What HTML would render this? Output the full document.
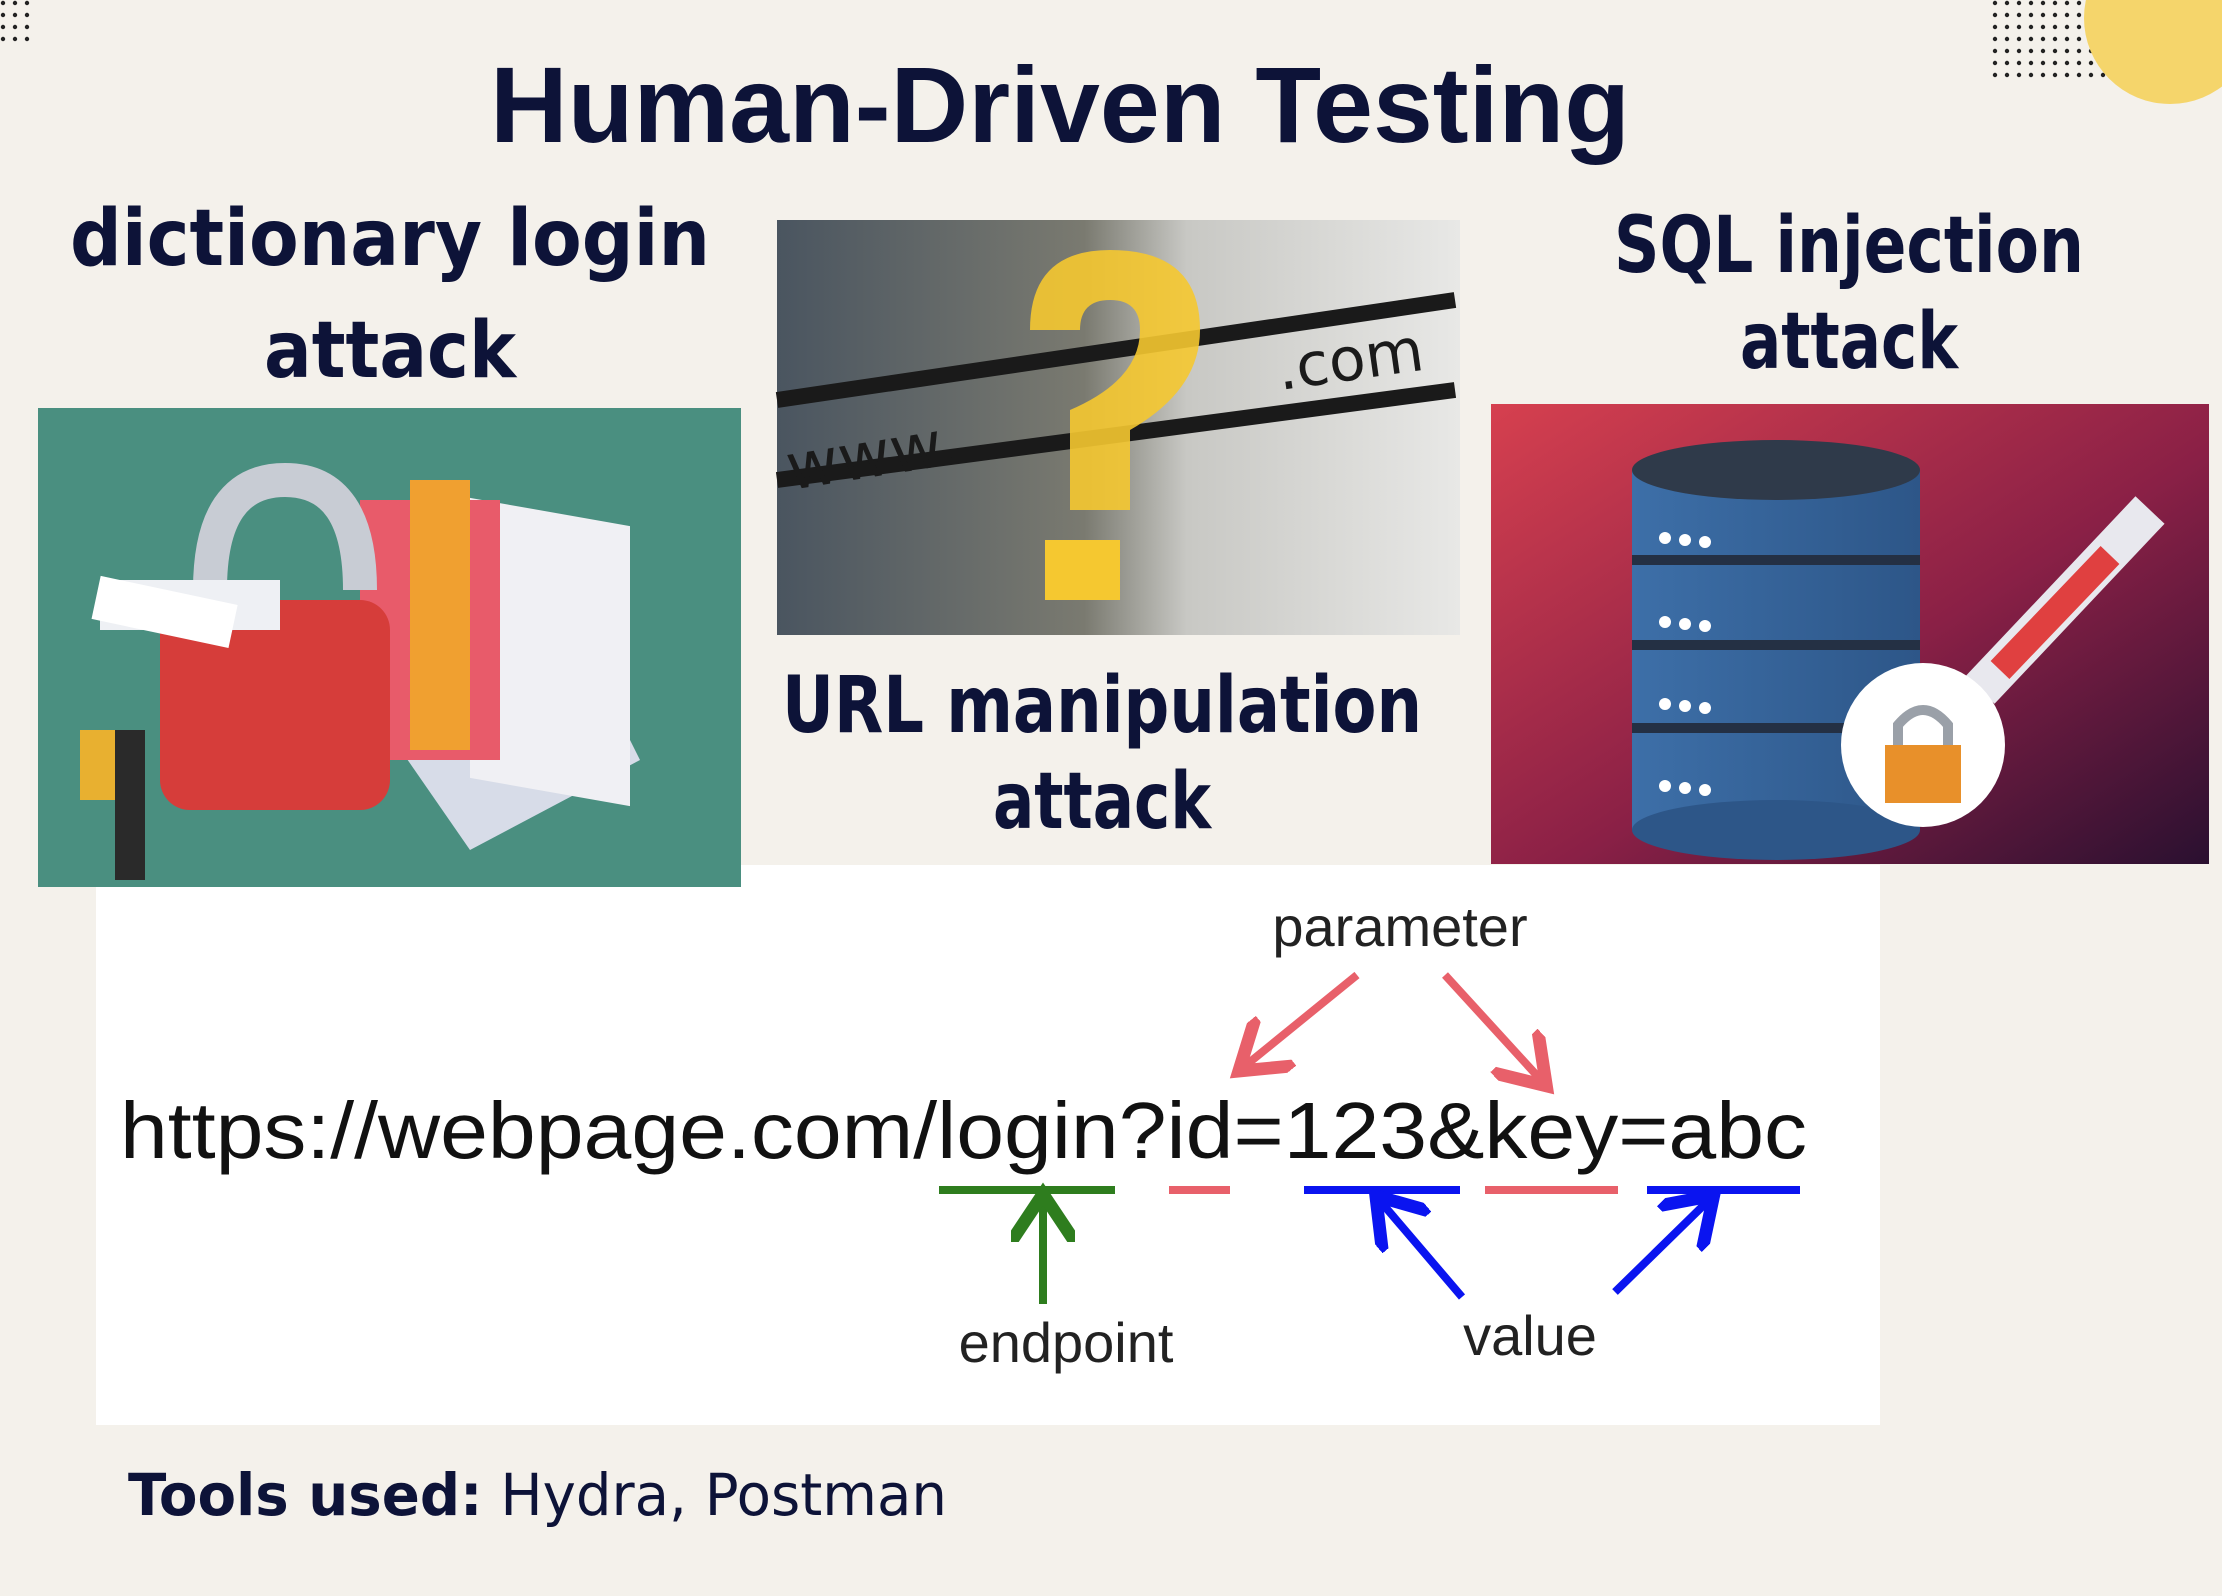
<!DOCTYPE html>
<html><head><meta charset="utf-8"><style>
html,body{margin:0;padding:0;background:#f4f1eb;}
svg{display:block}
</style></head><body>
<svg width="2222" height="1596" viewBox="0 0 2222 1596" xmlns="http://www.w3.org/2000/svg">
<defs>
<pattern id="dots" width="12" height="12" patternUnits="userSpaceOnUse"><circle cx="3" cy="3" r="2.2" fill="#222"/></pattern>
<linearGradient id="red" x1="0" y1="0" x2="1" y2="1"><stop offset="0" stop-color="#d6404f"/><stop offset="0.55" stop-color="#8a2046"/><stop offset="1" stop-color="#2a1030"/></linearGradient>
<linearGradient id="mid" x1="0" y1="0" x2="1" y2="0"><stop offset="0" stop-color="#4a5560"/><stop offset="0.45" stop-color="#7a7a70"/><stop offset="0.6" stop-color="#c8c8c4"/><stop offset="1" stop-color="#e8e8e6"/></linearGradient>
<linearGradient id="db" x1="0" y1="0" x2="1" y2="0"><stop offset="0" stop-color="#3d6fa8"/><stop offset="1" stop-color="#2d5688"/></linearGradient>
<marker id="ar" markerWidth="8" markerHeight="8" refX="5" refY="4" orient="auto" markerUnits="strokeWidth"><path d="M0,0 L6,4 L0,8" fill="none" stroke="#e8606a" stroke-width="1.6"/></marker>
<marker id="ab" markerWidth="8" markerHeight="8" refX="5" refY="4" orient="auto" markerUnits="strokeWidth"><path d="M0,0 L6,4 L0,8" fill="none" stroke="#0a14f0" stroke-width="1.6"/></marker>
<marker id="ag" markerWidth="8" markerHeight="8" refX="5" refY="4" orient="auto" markerUnits="strokeWidth"><path d="M0,0 L6,4 L0,8" fill="none" stroke="#2e7d1e" stroke-width="1.6"/></marker>
</defs>
<rect width="2222" height="1596" fill="#f4f1eb"/>
<rect x="0" y="0" width="36" height="44" fill="url(#dots)"/>
<rect x="1990" y="0" width="232" height="80" fill="url(#dots)"/>
<circle cx="2170" cy="18" r="86" fill="#f5d56b"/>
<text x="1060" y="142" text-anchor="middle" font-family="Liberation Sans, sans-serif" font-weight="bold" font-size="108" fill="#0d1338" textLength="1140" lengthAdjust="spacingAndGlyphs">Human-Driven Testing</text>
<g font-family="DejaVu Sans, sans-serif" font-size="78" fill="#0d1338" text-anchor="middle" font-weight="bold">
<text x="390" y="265" textLength="640" lengthAdjust="spacingAndGlyphs">dictionary login</text>
<text x="390" y="377" textLength="252" lengthAdjust="spacingAndGlyphs">attack</text>
<text x="1102" y="732" textLength="640" lengthAdjust="spacingAndGlyphs">URL manipulation</text>
<text x="1102" y="828" textLength="218" lengthAdjust="spacingAndGlyphs">attack</text>
<text x="1849" y="272" textLength="470" lengthAdjust="spacingAndGlyphs">SQL injection</text>
<text x="1849" y="368" textLength="218" lengthAdjust="spacingAndGlyphs">attack</text>
</g>
<rect x="96" y="865" width="1784" height="560" fill="#ffffff"/>
<rect x="38" y="408" width="703" height="479" fill="#4a8f80"/>
<polygon points="380,720 560,600 640,760 470,850" fill="#d7dce8"/>
<rect x="470" y="415" width="160" height="280" fill="#f0f0f4" transform="skewY(10)"/>
<rect x="360" y="500" width="140" height="260" fill="#e85b6a"/>
<rect x="410" y="480" width="60" height="270" fill="#f0a030"/>
<path d="M210,590 Q210,480 285,480 Q360,480 360,590" fill="none" stroke="#c8ccd4" stroke-width="34"/>
<rect x="160" y="600" width="230" height="210" rx="30" fill="#d63d3a"/>
<rect x="100" y="580" width="180" height="50" fill="#eef0f4"/>
<rect x="95" y="590" width="140" height="44" fill="#ffffff" transform="rotate(12 165 610)"/>
<rect x="80" y="730" width="40" height="70" fill="#e8b030"/>
<rect x="115" y="730" width="30" height="150" fill="#2a2a2a"/>
<rect x="777" y="220" width="683" height="415" fill="url(#mid)"/>
<path d="M777,400 L1455,300" stroke="#1a1a1a" stroke-width="16"/>
<path d="M777,480 L1455,390" stroke="#1a1a1a" stroke-width="16"/>
<text x="790" y="490" font-family="DejaVu Sans, sans-serif" font-size="64" fill="#1a1a1a" transform="rotate(-9 790 490)">www.</text>
<text x="1280" y="390" font-family="DejaVu Sans, sans-serif" font-size="60" fill="#1a1a1a" transform="rotate(-8 1280 390)">.com</text>
<path d="M1030,330 Q1030,250 1110,250 Q1200,250 1200,330 Q1200,390 1130,430 L1130,510 L1070,510 L1070,410 Q1140,380 1140,330 Q1140,300 1110,300 Q1080,300 1080,330 Z" fill="#f5c830" opacity="0.9"/>
<rect x="1045" y="540" width="75" height="60" fill="#f5c830"/>
<rect x="1491" y="404" width="718" height="460" fill="url(#red)"/>
<rect x="1632" y="470" width="288" height="360" fill="url(#db)"/>
<ellipse cx="1776" cy="470" rx="144" ry="30" fill="#2f3a4a"/>
<ellipse cx="1776" cy="830" rx="144" ry="30" fill="#2d5688"/>
<g stroke="#243044" stroke-width="10"><line x1="1632" y1="560" x2="1920" y2="560"/><line x1="1632" y1="645" x2="1920" y2="645"/><line x1="1632" y1="728" x2="1920" y2="728"/></g>
<g fill="#fff"><circle cx="1665" cy="538" r="6"/><circle cx="1685" cy="540" r="6"/><circle cx="1705" cy="542" r="6"/><circle cx="1665" cy="622" r="6"/><circle cx="1685" cy="624" r="6"/><circle cx="1705" cy="626" r="6"/><circle cx="1665" cy="704" r="6"/><circle cx="1685" cy="706" r="6"/><circle cx="1705" cy="708" r="6"/><circle cx="1665" cy="786" r="6"/><circle cx="1685" cy="788" r="6"/><circle cx="1705" cy="790" r="6"/></g>
<line x1="1980" y1="690" x2="2150" y2="510" stroke="#e8e8ee" stroke-width="40"/>
<line x1="2000" y1="670" x2="2110" y2="555" stroke="#e04040" stroke-width="26"/>
<circle cx="1923" cy="745" r="82" fill="#ffffff"/>
<rect x="1885" y="745" width="76" height="58" fill="#e8902a"/>
<path d="M1898,745 L1898,725 Q1923,695 1948,725 L1948,745" fill="none" stroke="#9aa0a8" stroke-width="10"/>
<text x="120" y="1158" font-family="Liberation Sans, sans-serif" font-size="80" fill="#111" textLength="1687" lengthAdjust="spacingAndGlyphs">https://webpage.com/login?id=123&amp;key=abc</text>
<text x="1400" y="946" text-anchor="middle" font-family="Liberation Sans, sans-serif" font-size="56" fill="#222">parameter</text>
<text x="1066" y="1362" text-anchor="middle" font-family="Liberation Sans, sans-serif" font-size="56" fill="#222">endpoint</text>
<text x="1530" y="1355" text-anchor="middle" font-family="Liberation Sans, sans-serif" font-size="56" fill="#222">value</text>
<g stroke-width="8" fill="none">
<line x1="1357" y1="975" x2="1245" y2="1066" stroke="#e8606a" marker-end="url(#ar)"/>
<line x1="1445" y1="975" x2="1541" y2="1080" stroke="#e8606a" marker-end="url(#ar)"/>
<line x1="939" y1="1190" x2="1115" y2="1190" stroke="#2e7d1e"/>
<line x1="1043" y1="1304" x2="1043" y2="1202" stroke="#2e7d1e" marker-end="url(#ag)"/>
<line x1="1169" y1="1190" x2="1230" y2="1190" stroke="#e8606a"/>
<line x1="1485" y1="1190" x2="1618" y2="1190" stroke="#e8606a"/>
<line x1="1304" y1="1190" x2="1460" y2="1190" stroke="#0a14f0"/>
<line x1="1647" y1="1190" x2="1800" y2="1190" stroke="#0a14f0"/>
<line x1="1462" y1="1297" x2="1381" y2="1202" stroke="#0a14f0" marker-end="url(#ab)"/>
<line x1="1615" y1="1292" x2="1708" y2="1201" stroke="#0a14f0" marker-end="url(#ab)"/>
</g>
<text x="128" y="1515" font-family="DejaVu Sans, sans-serif" font-size="58" fill="#0d1338" textLength="819" lengthAdjust="spacingAndGlyphs"><tspan font-weight="bold">Tools used:</tspan> Hydra, Postman</text>
</svg>
</body></html>
